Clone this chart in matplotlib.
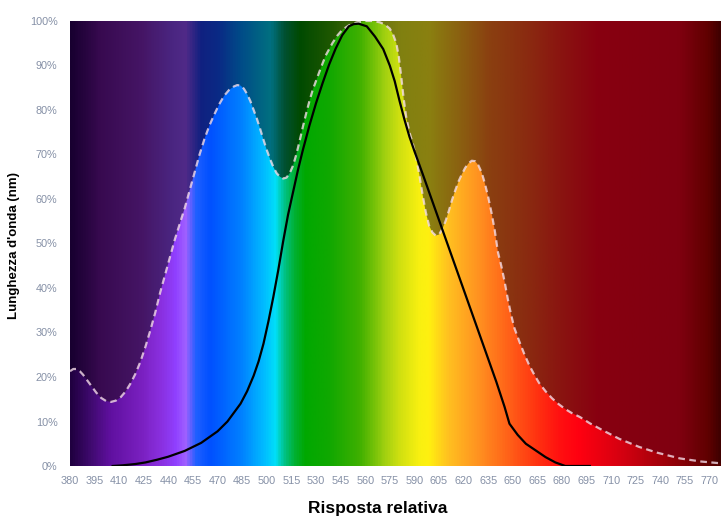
import numpy as np
import matplotlib
matplotlib.use("Agg")
import matplotlib.pyplot as plt
from matplotlib.colors import LinearSegmentedColormap
from matplotlib.patches import Polygon

plt.rcParams['font.family'] = ['Liberation Sans', 'DejaVu Sans']

# tick labels
wl_ticks = list(range(380, 771, 15))
pct_ticks = list(range(0, 101, 10))

# LED spectrum (white dashed curve), % relative
led_wl = [380, 382, 384, 386, 388, 390, 393, 396, 399, 402, 405, 408, 411, 414, 417,
          420, 423, 426, 429, 432, 435, 438, 441, 444, 447, 450, 453, 456, 459, 462,
          465, 468, 471, 474, 477, 480, 482, 484, 486, 488, 490, 492, 494, 496, 498,
          500, 502, 504, 506, 508, 510, 512, 514, 516, 518, 520, 522, 524, 526, 528,
          530, 533, 536, 540, 543, 546, 550, 555, 560, 565, 569, 572, 575, 577, 579,
          580.5, 582, 583.5, 585, 587, 589, 591, 593, 595, 597, 599, 601, 603, 605, 607,
          609, 611, 613, 615, 617, 619, 621, 623, 625, 627, 629, 631, 633, 635, 637,
          639, 641, 643, 645, 647, 649, 651, 654, 657, 660, 663, 666, 670, 674, 678,
          682, 686, 691, 697, 705, 715, 727, 738, 752, 765, 777]
led_val = [21.3, 21.8, 21.8, 21.3, 20.5, 19.5, 18, 16.5, 15.3, 14.6, 14.4, 14.7, 15.5, 16.8, 18.6,
           20.8, 23.5, 26.8, 30.5, 34.5, 39, 43, 47, 51, 54.5, 58, 62, 66, 70, 73.5,
           76.5, 79, 81.3, 83.2, 84.5, 85.3, 85.6, 85.5, 84.8, 83.6, 82, 80, 78, 75.7, 73.3,
           71, 69, 67.2, 65.8, 65, 64.6, 64.8, 65.8, 67.5, 70, 73, 76.2, 79.2, 82, 84.5,
           86.5, 89.5, 92.3, 95, 96.7, 98, 99, 99.7, 100, 100, 99.7, 99.2, 98.3, 97, 95,
           92, 87.5, 82.5, 78.5, 75, 72.5, 69.5, 65.5, 61, 57, 54, 52.5, 51.8, 52, 53.2,
           55, 57.3, 59.8, 62, 64, 65.6, 67, 68, 68.6, 68.5, 67.6, 66, 63.5, 60.5, 57,
           53, 48, 45, 41.5, 37.5, 34, 31, 28, 25.2, 22.7, 20.6, 18.7, 16.8, 15.2, 13.9,
           12.8, 11.9, 11, 9.6, 8, 6.1, 4.3, 3, 1.7, 1, 0.6]

# eye sensitivity (black curve), % relative
eye_wl = [406, 412, 420, 426, 433, 440, 450, 460, 470, 476, 480, 484, 488, 492, 495,
          498, 501, 504, 507, 510, 513, 516, 519, 522, 526, 530, 534, 538, 542, 546,
          550, 553, 556, 561, 566, 571, 575, 578, 581, 584, 587, 590, 595, 600, 605,
          610, 615, 620, 625, 630, 635, 640, 645, 648, 653, 658, 664, 670, 676, 682,
          697]
eye_val = [0, 0.15, 0.45, 0.8, 1.4, 2.1, 3.4, 5.2, 7.8, 10, 12, 14, 16.8, 20.3, 23.5,
           27.5, 32.5, 38, 44, 50.5, 56.5, 61.5, 66.5, 71, 76.5, 81.5, 86, 90.2, 93.8, 96.8,
           98.8, 99.3, 99.4, 98.8, 96.5, 93.7, 90, 86.5, 82, 77.8, 74, 70.8, 65.7, 60.5, 55.3,
           50.1, 44.9, 39.7, 34.5, 29.3, 24.1, 18.9, 13.3, 9.5, 7, 5, 3.5, 2, 0.8, 0,
           0]

# spectrum colour stops (wavelength, colour)
dark_stops = [(380, '#180030'), (398, '#380a50'), (423, '#451565'), (441, '#4a2580'),
              (450, '#502a88'), (459, '#102080'), (470, '#0a2a85'), (484, '#004c88'),
              (502, '#007080'), (511, '#005030'), (520, '#004a00'), (540, '#205800'),
              (565, '#607010'), (581, '#808010'), (599, '#8a8010'), (618, '#8a6010'),
              (636, '#8a4010'), (660, '#8a2a10'), (679, '#8a1510'), (703, '#880010'),
              (752, '#800010'), (770, '#600000'), (777, '#400000')]
bright_stops = [(380, '#200040'), (392, '#400a70'), (404, '#6010a0'), (423, '#7a20c0'),
                (435, '#8a30e0'), (444, '#9040ff'), (450, '#a060ff'), (456, '#2060ff'),
                (465, '#0050ff'), (484, '#0080ff'), (499, '#00c0ff'), (505, '#00e0f8'),
                (511, '#00c080'), (517, '#00b030'), (523, '#00a800'), (538, '#10a800'),
                (557, '#40b000'), (572, '#a0d010'), (581, '#d0e010'), (593, '#f8f010'),
                (599, '#fff010'), (611, '#ffc020'), (630, '#ff9020'), (648, '#ff6018'),
                (666, '#ff3010'), (679, '#ff1010'), (691, '#ff0010'), (720, '#d00010'),
                (750, '#900008'), (777, '#500000')]

x_lo, x_hi = 380, 777


def make_cmap(stops, name):
    return LinearSegmentedColormap.from_list(
        name, [((w - x_lo) / (x_hi - x_lo), c) for w, c in stops])


fig = plt.figure(figsize=(7.21, 5.19), dpi=100)
ax = fig.add_axes([70 / 721, 53 / 519, 651 / 721, 445 / 519])

grad = np.linspace(0, 1, 1000).reshape(1, -1)
ax.imshow(grad, cmap=make_cmap(dark_stops, 'dark'), extent=[x_lo, x_hi, 0, 100],
          aspect='auto', zorder=0, interpolation='bilinear')
bright = ax.imshow(grad, cmap=make_cmap(bright_stops, 'bright'),
                   extent=[x_lo, x_hi, 0, 100], aspect='auto', zorder=1,
                   interpolation='bilinear')

verts = list(zip(led_wl, led_val)) + [(led_wl[-1], 0), (led_wl[0], 0)]
clip = Polygon(verts, closed=True, facecolor='none', edgecolor='none',
               transform=ax.transData)
ax.add_patch(clip)
bright.set_clip_path(clip)

ax.plot(led_wl, led_val, color='#f4dce8', alpha=0.8, lw=1.6, dashes=(3, 2), zorder=3)
ax.plot(eye_wl, eye_val, color='black', lw=1.6, zorder=4)

ax.set_xlim(x_lo, x_hi)
ax.set_ylim(0, 100)
ax.set_xticks(wl_ticks)
ax.set_xticklabels([str(w) for w in wl_ticks])
ax.set_yticks(pct_ticks)
ax.set_yticklabels([f'{p}%' for p in pct_ticks])
ax.tick_params(length=0, labelsize=7.8, colors='#8590a6')
ax.tick_params(axis='x', pad=7)
ax.tick_params(axis='y', pad=9)
for s in ax.spines.values():
    s.set_visible(False)

fig.text(378 / 721, 1 - 508 / 519, 'Risposta relativa', ha='center', va='center',
         fontsize=12.5, fontweight='bold')
fig.text(14 / 721, 1 - 245 / 519, "Lunghezza d'onda (nm)", ha='center', va='center',
         rotation=90, fontsize=9.5, fontweight='bold')

fig.savefig('out.png', dpi=100)
